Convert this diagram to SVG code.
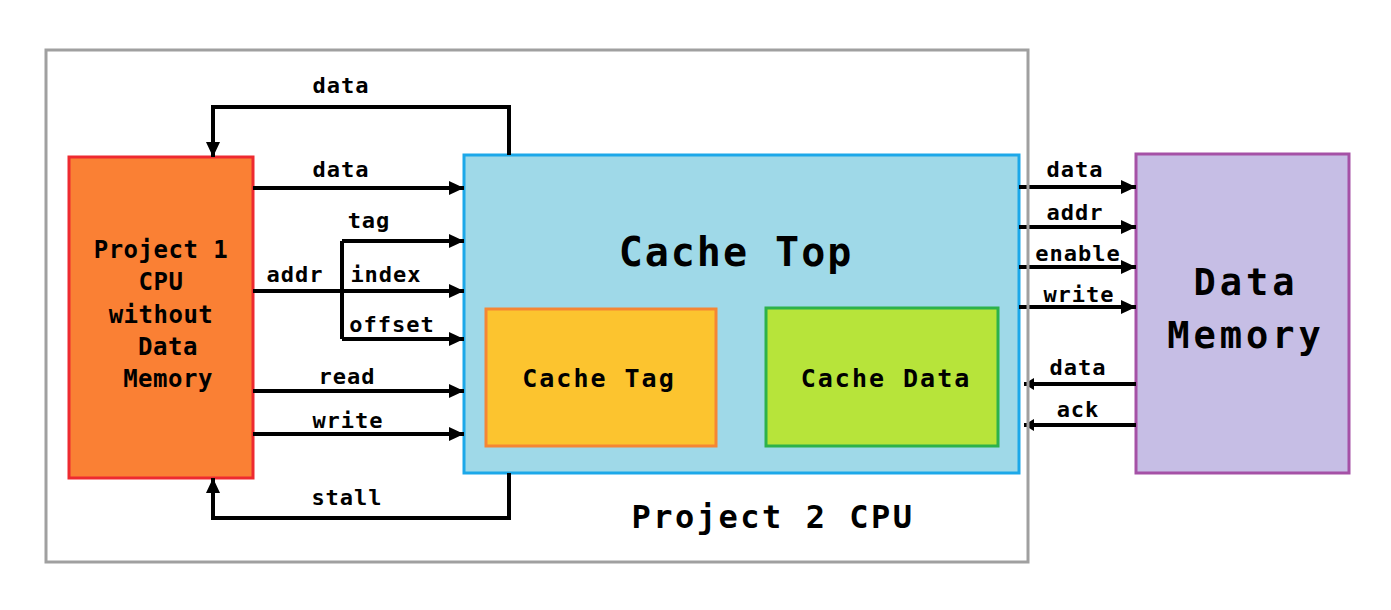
<svg xmlns="http://www.w3.org/2000/svg" width="1391" height="610" viewBox="0 0 1391 610">
<defs>
<style>
text{font-family:"DejaVu Sans Mono","Liberation Mono",monospace;font-weight:bold;fill:#000;text-anchor:middle}
.lbl{font-size:22px;letter-spacing:1px}
.cpu{font-size:24px;letter-spacing:0.5px}
.big{font-size:40px;letter-spacing:2px}
.mid{font-size:25px;letter-spacing:2px}
.mem{font-size:37px;letter-spacing:4px}
.p2{font-size:32px;letter-spacing:2.5px}
.wire{fill:none;stroke:#000;stroke-width:4}
.arr{marker-end:url(#ah)}
.arrs{marker-end:url(#ahs)}
</style>
<marker id="ah" markerUnits="userSpaceOnUse" markerWidth="15" markerHeight="14" refX="15" refY="7" orient="auto">
<path d="M0,0 L15,7 L0,14 z" fill="#000"/>
</marker>
<marker id="ahs" markerUnits="userSpaceOnUse" markerWidth="10" markerHeight="12" refX="10" refY="6" orient="auto">
<path d="M0,0 L10,6 L0,12 z" fill="#000"/>
</marker>
</defs>
<rect width="1391" height="610" fill="#fff"/>

<g id="cpu1">
<rect x="69" y="157" width="184" height="321" fill="#FA8034" stroke="#EE2A30" stroke-width="3"/>
<text class="cpu" x="161" y="258">Project 1</text>
<text class="cpu" x="161" y="290">CPU</text>
<text class="cpu" x="161" y="323">without</text>
<text class="cpu" x="168" y="355">Data</text>
<text class="cpu" x="168" y="387">Memory</text>
</g>

<g id="cachetop">
<rect x="464" y="155" width="555" height="318" fill="#9FD9E8" stroke="#1CA8E9" stroke-width="3"/>
<text class="big" x="736" y="266">Cache Top</text>
</g>

<g id="cachetag">
<rect x="486" y="309" width="230" height="137" fill="#FCC42F" stroke="#F58634" stroke-width="3"/>
<text class="mid" x="599" y="387">Cache Tag</text>
</g>

<g id="cachedata">
<rect x="766" y="308" width="232" height="138" fill="#B7E43A" stroke="#2DB24A" stroke-width="3"/>
<text class="mid" x="886" y="387">Cache Data</text>
</g>

<g id="datamem">
<rect x="1136" y="154" width="213" height="319" fill="#C6BEE5" stroke="#A551A6" stroke-width="3"/>
<text class="mem" x="1246" y="295">Data</text>
<text class="mem" x="1246" y="348">Memory</text>
</g>

<g id="connectors">
<path class="wire arr" d="M509,155 V107 H213 V157"/>
<path class="wire arr" d="M253,188 H464"/>
<path class="wire" d="M253,291 H342"/>
<path class="wire" d="M342,241 V339"/>
<path class="wire arr" d="M342,241 H464"/>
<path class="wire arr" d="M342,291 H464"/>
<path class="wire arr" d="M342,339 H464"/>
<path class="wire arr" d="M253,391 H464"/>
<path class="wire arr" d="M253,434 H464"/>
<path class="wire arr" d="M509,473 V518 H213 V478"/>
<path class="wire arr" d="M1019,187 H1136"/>
<path class="wire arr" d="M1019,227 H1136"/>
<path class="wire arr" d="M1019,267 H1136"/>
<path class="wire arr" d="M1019,307 H1136"/>
<path class="wire arrs" d="M1136,384 H1024"/>
<path class="wire arrs" d="M1136,425 H1024"/>
</g>

<g id="labels">
<text class="lbl" x="341" y="93">data</text>
<text class="lbl" x="341" y="177">data</text>
<text class="lbl" x="369" y="228">tag</text>
<text class="lbl" x="295" y="282">addr</text>
<text class="lbl" x="386" y="282">index</text>
<text class="lbl" x="392" y="332">offset</text>
<text class="lbl" x="347" y="384">read</text>
<text class="lbl" x="348" y="428">write</text>
<text class="lbl" x="347" y="505">stall</text>
<text class="lbl" x="1075" y="177">data</text>
<text class="lbl" x="1075" y="220">addr</text>
<text class="lbl" x="1078" y="261">enable</text>
<text class="lbl" x="1079" y="302">write</text>
<text class="lbl" x="1078" y="375">data</text>
<text class="lbl" x="1078" y="417">ack</text>
</g>

<g id="project2">
<rect x="46" y="50" width="982" height="512" fill="none" stroke="#A0A0A0" stroke-width="3"/>
<text class="p2" x="773" y="528">Project 2 CPU</text>
</g>
</svg>
